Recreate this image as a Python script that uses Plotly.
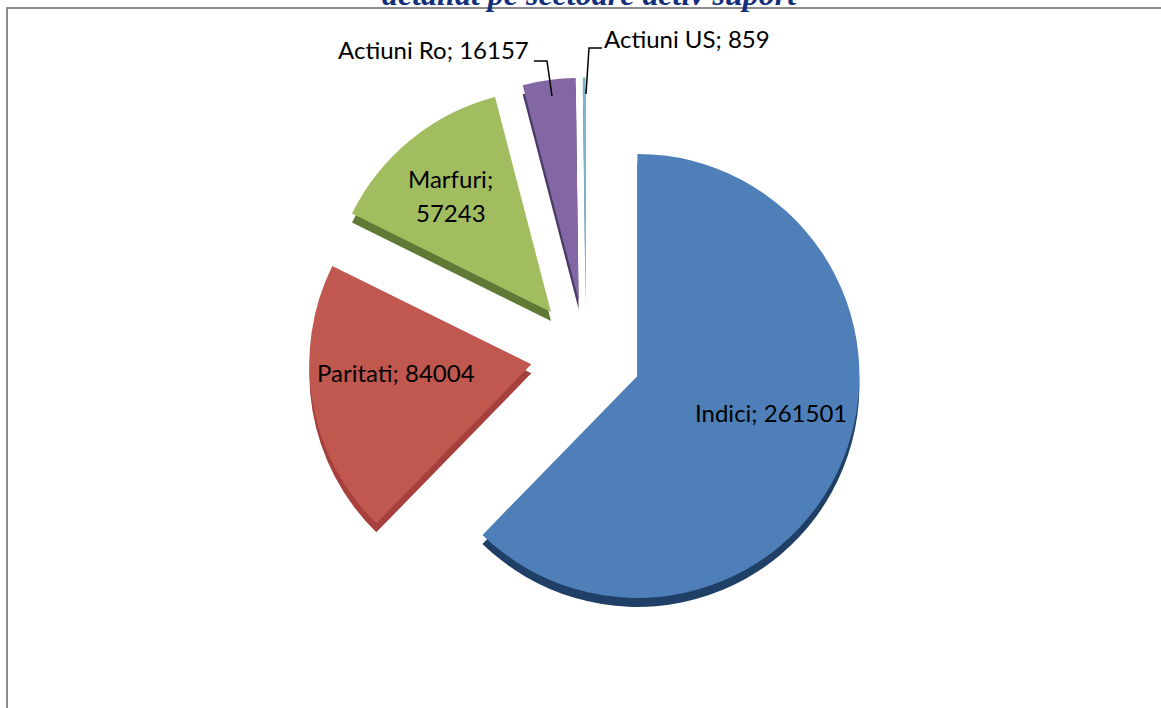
import plotly.graph_objects as go

W, H = 1161, 708
categories = ["Indici", "Paritati", "Marfuri", "Actiuni Ro", "Actiuni US"]
values = [261501, 84004, 57243, 16157, 859]
colors = ["#4F7FB8", "#C05850", "#A2BC60", "#8367A4", "#7FB5C8"]
side_colors = ["#1F3F66", "#A5403C", "#5F7A35", "#4A3A66", "#4A8298"]
title_text = "detaliat pe sectoare activ suport"
PULL = 0.25
CX, CY, R = 586, 355, 222
DEPTH = 9


def dom(cx, cy, half):
    return dict(x=[(cx - half) / W, (cx + half) / W],
                y=[1 - (cy + half) / H, 1 - (cy - half) / H])


half = R * (1 + PULL)
common = dict(labels=categories, values=values, sort=False, direction="clockwise",
              rotation=0, pull=[PULL] * 5, textinfo="none", hoverinfo="label+value",
              showlegend=False)
fig = go.Figure()
fig.add_trace(go.Pie(domain=dom(CX, CY + DEPTH, half),
                     marker=dict(colors=side_colors, line=dict(width=0)), **common))
fig.add_trace(go.Pie(domain=dom(CX, CY, half),
                     marker=dict(colors=colors, line=dict(width=0)), **common))


def px(x):
    return x / W


def py(y):
    return 1 - y / H


def note(text, x, y):
    fig.add_annotation(x=px(x), y=py(y), xref="paper", yref="paper", showarrow=False,
                       text=text, align="center", xanchor="center", yanchor="middle",
                       font=dict(family="Lato, Carlito, sans-serif", size=24, color="#000"))


def label(i, x, y):
    note(f"{categories[i]}; {values[i]}", x, y)


label(0, 771, 412)
label(1, 396, 372)
note(f"{categories[2]};", 451, 179)
note(f"{values[2]}", 451, 212)
label(3, 433, 50)
label(4, 687, 38)

fig.add_annotation(x=px(589), y=py(-6), xref="paper", yref="paper", showarrow=False,
                   text=f"<b><i>{title_text}</i></b>", xanchor="center", yanchor="middle",
                   font=dict(family="Liberation Serif, serif", size=32, color="#14307A"))

line = dict(color="#000", width=1.5)
shapes = [
    dict(type="rect", xref="paper", yref="paper", x0=px(7), x1=px(1170), y0=py(760), y1=py(8),
         line=dict(color="#8C8C8C", width=2), fillcolor="rgba(0,0,0,0)", layer="below"),
    dict(type="path", xref="paper", yref="paper", line=line,
         path=f"M {px(534)} {py(61)} L {px(547)} {py(61)} L {px(552)} {py(96)}"),
    dict(type="path", xref="paper", yref="paper", line=line,
         path=f"M {px(602)} {py(48)} L {px(589)} {py(48)} L {px(586)} {py(94)}"),
]
fig.update_layout(width=W, height=H, margin=dict(l=0, r=0, t=0, b=0),
                  paper_bgcolor="#FFFFFF", shapes=shapes)
fig.write_html("out.html", config=dict(displayModeBar=False),
               post_script="document.body.style.margin='0';document.body.style.overflow='hidden';")
